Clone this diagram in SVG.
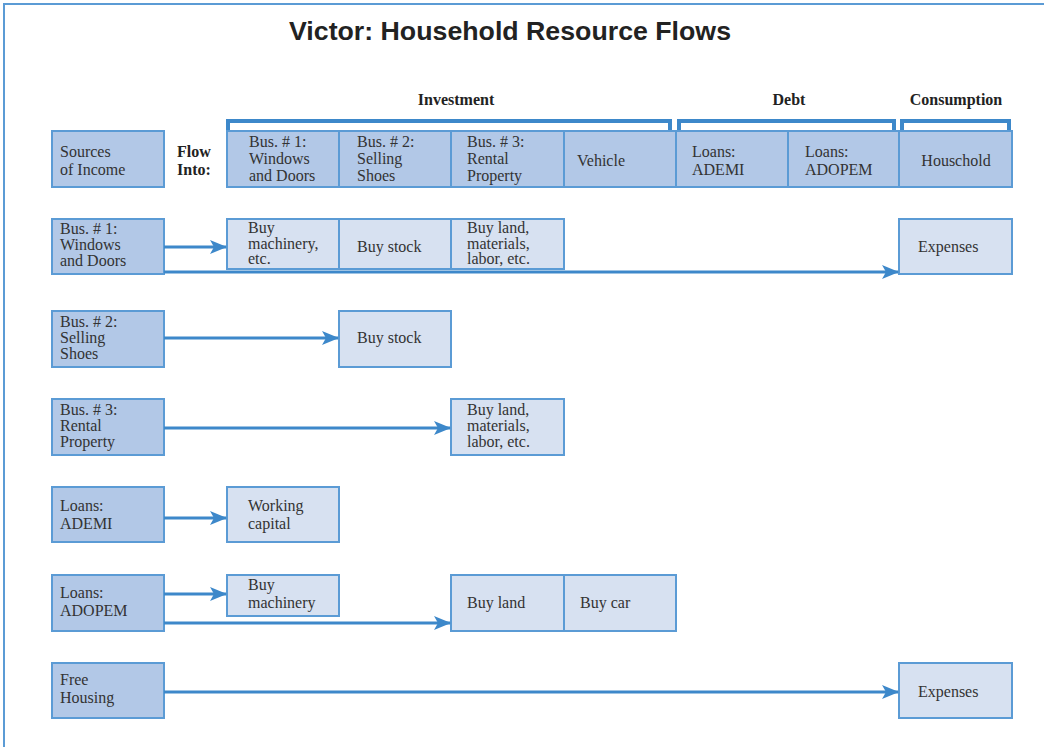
<svg xmlns="http://www.w3.org/2000/svg" width="1044" height="748" viewBox="0 0 1044 748">
<defs>
<style>
.dk{fill:#b2c8e7;stroke:#5b9bd5;stroke-width:2}
.lt{fill:#d7e1f1;stroke:#5b9bd5;stroke-width:2}
.t{font-family:"Liberation Serif",serif;font-size:16px;fill:#333}
.b{font-family:"Liberation Serif",serif;font-size:16px;font-weight:bold;fill:#222}
.ln{stroke:#3d88ca;stroke-width:3;fill:none}
.br{stroke:#3d88ca;stroke-width:4;fill:none}
</style>
<marker id="ah" markerWidth="17" markerHeight="14" refX="16" refY="7" orient="auto" markerUnits="userSpaceOnUse">
<path d="M0,0 L17,7 L0,14 L4,7 Z" fill="#3d88ca"/>
</marker>
</defs>
<rect x="0" y="0" width="1044" height="748" fill="#fff"/>
<path d="M4,747 V4 H1044" stroke="#5b9bd5" stroke-width="2" fill="none"/>
<text x="510" y="40" text-anchor="middle" font-family="'Liberation Sans',Arial,sans-serif" font-size="26" font-weight="bold" fill="#222" textLength="442" lengthAdjust="spacingAndGlyphs">Victor: Household Resource Flows</text>

<g id="brackets">
<text class="b" x="456" y="105" text-anchor="middle">Investment</text>
<text class="b" x="789" y="105" text-anchor="middle">Debt</text>
<text class="b" x="956" y="105" text-anchor="middle">Consumption</text>
<path class="br" d="M228,130 V121 H670 V130"/>
<path class="br" d="M679,130 V121 H894 V130"/>
<path class="br" d="M902,130 V121 H1009 V130"/>
</g>

<g id="header">
<g id="sources"><rect class="dk" x="52" y="131" width="112" height="56"/><text class="t" x="60" y="157">Sources</text><text class="t" x="60" y="175">of Income</text></g>
<g id="flowinto"><text class="b" x="177" y="157">Flow</text><text class="b" x="177" y="175">Into:</text></g>
<g id="h-bus1"><rect class="dk" x="227" y="131" width="112" height="56"/><text class="t" x="249" y="147">Bus. # 1:</text><text class="t" x="249" y="164">Windows</text><text class="t" x="249" y="181">and Doors</text></g>
<g id="h-bus2"><rect class="dk" x="339" y="131" width="112" height="56"/><text class="t" x="357" y="147">Bus. # 2:</text><text class="t" x="357" y="164">Selling</text><text class="t" x="357" y="181">Shoes</text></g>
<g id="h-bus3"><rect class="dk" x="451" y="131" width="113" height="56"/><text class="t" x="467" y="147">Bus. # 3:</text><text class="t" x="467" y="164">Rental</text><text class="t" x="467" y="181">Property</text></g>
<g id="h-vehicle"><rect class="dk" x="564" y="131" width="112" height="56"/><text class="t" x="601" y="166" text-anchor="middle">Vehicle</text></g>
<g id="h-ademi"><rect class="dk" x="676" y="131" width="112" height="56"/><text class="t" x="692" y="157">Loans:</text><text class="t" x="692" y="175">ADEMI</text></g>
<g id="h-adopem"><rect class="dk" x="788" y="131" width="111" height="56"/><text class="t" x="805" y="157">Loans:</text><text class="t" x="805" y="175">ADOPEM</text></g>
<g id="h-household"><rect class="dk" x="899" y="131" width="113" height="56"/><text class="t" x="956" y="166" text-anchor="middle">Houschold</text></g>
</g>

<g id="r1-src"><rect class="dk" x="52" y="219" width="112" height="55"/><text class="t" x="60" y="234">Bus. # 1:</text><text class="t" x="60" y="250">Windows</text><text class="t" x="60" y="266">and Doors</text></g>
<g id="r1-mach"><rect class="lt" x="227" y="219" width="112" height="50"/><text class="t" x="248" y="233">Buy</text><text class="t" x="248" y="249">machinery,</text><text class="t" x="248" y="264">etc.</text></g>
<g id="r1-stock"><rect class="lt" x="339" y="219" width="112" height="50"/><text class="t" x="357" y="252">Buy stock</text></g>
<g id="r1-land"><rect class="lt" x="451" y="219" width="113" height="50"/><text class="t" x="467" y="233">Buy land,</text><text class="t" x="467" y="249">materials,</text><text class="t" x="467" y="264">labor, etc.</text></g>
<g id="r1-exp"><rect class="lt" x="899" y="219" width="113" height="55"/><text class="t" x="918" y="252">Expenses</text></g>

<g id="r2-src"><rect class="dk" x="52" y="311" width="112" height="56"/><text class="t" x="60" y="327">Bus. # 2:</text><text class="t" x="60" y="343">Selling</text><text class="t" x="60" y="359">Shoes</text></g>
<g id="r2-stock"><rect class="lt" x="339" y="311" width="112" height="56"/><text class="t" x="357" y="343">Buy stock</text></g>

<g id="r3-src"><rect class="dk" x="52" y="399" width="112" height="56"/><text class="t" x="60" y="415">Bus. # 3:</text><text class="t" x="60" y="431">Rental</text><text class="t" x="60" y="447">Property</text></g>
<g id="r3-land"><rect class="lt" x="451" y="399" width="113" height="56"/><text class="t" x="467" y="415">Buy land,</text><text class="t" x="467" y="431">materials,</text><text class="t" x="467" y="447">labor, etc.</text></g>

<g id="r4-src"><rect class="dk" x="52" y="487" width="112" height="55"/><text class="t" x="60" y="511">Loans:</text><text class="t" x="60" y="529">ADEMI</text></g>
<g id="r4-wc"><rect class="lt" x="227" y="487" width="112" height="55"/><text class="t" x="248" y="511">Working</text><text class="t" x="248" y="529">capital</text></g>

<g id="r5-src"><rect class="dk" x="52" y="575" width="112" height="56"/><text class="t" x="60" y="598">Loans:</text><text class="t" x="60" y="616">ADOPEM</text></g>
<g id="r5-mach"><rect class="lt" x="227" y="575" width="112" height="41"/><text class="t" x="248" y="590">Buy</text><text class="t" x="248" y="608">machinery</text></g>
<g id="r5-land"><rect class="lt" x="451" y="575" width="113" height="56"/><text class="t" x="467" y="608">Buy land</text></g>
<g id="r5-car"><rect class="lt" x="564" y="575" width="112" height="56"/><text class="t" x="580" y="608">Buy car</text></g>

<g id="r6-src"><rect class="dk" x="52" y="663" width="112" height="55"/><text class="t" x="60" y="685">Free</text><text class="t" x="60" y="703">Housing</text></g>
<g id="r6-exp"><rect class="lt" x="899" y="663" width="113" height="55"/><text class="t" x="918" y="697">Expenses</text></g>

<g id="connectors">
<line class="ln" x1="164" y1="247" x2="226" y2="247" marker-end="url(#ah)"/>
<line class="ln" x1="164" y1="272" x2="898" y2="272" marker-end="url(#ah)"/>
<line class="ln" x1="164" y1="338" x2="338" y2="338" marker-end="url(#ah)"/>
<line class="ln" x1="164" y1="428" x2="450" y2="428" marker-end="url(#ah)"/>
<line class="ln" x1="164" y1="518" x2="226" y2="518" marker-end="url(#ah)"/>
<line class="ln" x1="164" y1="594" x2="226" y2="594" marker-end="url(#ah)"/>
<line class="ln" x1="164" y1="623" x2="450" y2="623" marker-end="url(#ah)"/>
<line class="ln" x1="164" y1="692" x2="898" y2="692" marker-end="url(#ah)"/>
</g>
</svg>
